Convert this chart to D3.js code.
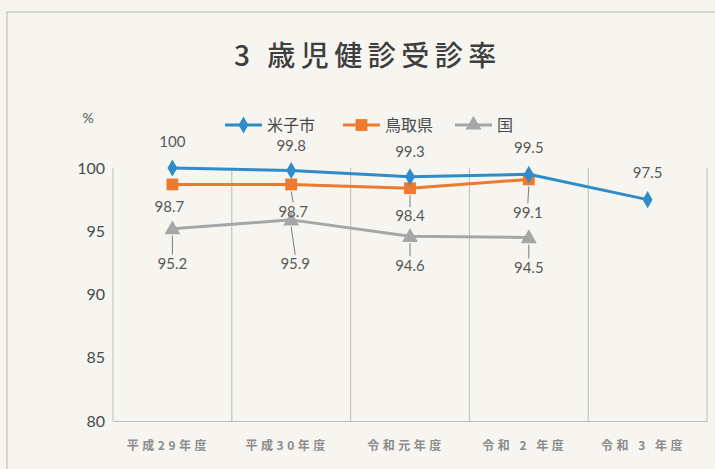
<!DOCTYPE html>
<html><head><meta charset="utf-8">
<script src="https://cdn.jsdelivr.net/npm/d3@7"></script>
<style>
html,body{margin:0;padding:0;background:#f5f4ee;}
svg{display:block;}
</style></head>
<body>
<svg id="chart" width="715" height="469"></svg>
<script>
const categories = ["平成29年度", "平成30年度", "令和元年度", "令和２年度", "令和３年度"];
const categoryLabels = ["平成29年度", "平成30年度", "令和元年度", "令和 2 年度", "令和 3 年度"];
const yonago = [100, 99.8, 99.3, 99.5, 97.5];
const tottori = [98.7, 98.7, 98.4, 99.1, null];
const kuni = [95.2, 95.9, 94.6, 94.5, null];
const yTicks = [80, 85, 90, 95, 100];
const seriesNames = ["米子市", "鳥取県", "国"];

// label layout (pixel offsets of data labels relative to their points)
const labelDy = {
  "米子市": [-26, -25, -25, -27, -27],
  "鳥取県": [22, 27, 28, 33],
  "国": [35, 44, 29, 30]
};
const labelDx = {
  "米子市": [0, 0, 0, 0, 0],
  "鳥取県": [-3, 2, 0, -1],
  "国": [0, 4, 0, 0]
};

const svg = d3.select("#chart");
const W = 715, H = 469;
const margin = {left: 113, right: 8, top: 168, bottom: 48};
const x = d3.scaleBand().domain(categories).range([margin.left, W - margin.right]);
const y = d3.scaleLinear().domain([80, 100]).range([H - margin.bottom, margin.top]);
const cx = c => x(c) + x.bandwidth() / 2;

// outer border
svg.append("rect").attr("x", 7).attr("y", 12).attr("width", W - 7 + 2).attr("height", H)
  .attr("fill", "#f6f5ef").attr("stroke", "#b8b8b4").attr("stroke-width", 1);

// title
svg.append("text").attr("x", 368).attr("y", 66).attr("text-anchor", "middle")
  .attr("font-family", "'Noto Sans CJK JP'").attr("font-size", 28).attr("font-weight", 500)
  .attr("letter-spacing", 5.5).attr("fill", "#3e3e3e").text("3 歳児健診受診率");

// unit
svg.append("text").attr("x", 88).attr("y", 123).attr("text-anchor", "middle")
  .attr("font-family", "Lato, 'Noto Sans'").attr("font-size", 14).attr("fill", "#555").text("%");

// vertical gridlines at band boundaries
const bounds = categories.map(c => x(c)).concat([x.range()[1]]);
svg.append("g").selectAll("line").data(bounds).join("line")
  .attr("x1", d => d).attr("x2", d => d)
  .attr("y1", y(100)).attr("y2", y(80))
  .attr("stroke", "#bcbcb8").attr("stroke-width", 1);

// x axis
const xAxis = d3.axisBottom(x).tickSize(0).tickFormat((d, i) => categoryLabels[i]);
const gx = svg.append("g").attr("transform", `translate(0,${y(80)})`).call(xAxis);
gx.select(".domain").attr("stroke", "#bcbcb8");
gx.selectAll("text").attr("dy", 0).attr("y", 29).attr("dx", -4)
  .attr("font-family", "'Noto Sans CJK JP'").attr("font-size", 12).attr("font-weight", 700)
  .attr("letter-spacing", 3.5).attr("fill", "#8c8c8c");

// y axis
const yAxis = d3.axisLeft(y).tickValues(yTicks).tickSize(0);
const gy = svg.append("g").attr("transform", `translate(${margin.left},0)`).call(yAxis);
gy.select(".domain").remove();
gy.selectAll("text").attr("x", -8)
  .attr("font-family", "Lato, 'Noto Sans'").attr("font-size", 16).attr("fill", "#4a4a4a");

const colors = {"米子市": "#2f8ccb", "鳥取県": "#ec7a30", "国": "#a6a6a6"};
const series = [
  {name: "米子市", values: yonago, marker: "diamond"},
  {name: "鳥取県", values: tottori, marker: "square"},
  {name: "国", values: kuni, marker: "triangle"}
];
const symType = {diamond: d3.symbolDiamond, square: d3.symbolSquare, triangle: d3.symbolTriangle};
const symSize = {diamond: 85, square: 140, triangle: 110};

const line = d3.line().defined(d => d.v != null).x(d => cx(d.c)).y(d => y(d.v));

// draw in reverse so 米子市 on top
[...series].reverse().forEach(s => {
  const pts = categories.map((c, i) => ({c, v: s.values[i], i})).filter(d => d.v != null);
  svg.append("path").datum(pts).attr("d", line).attr("fill", "none")
    .attr("stroke", colors[s.name]).attr("stroke-width", 3).attr("stroke-linejoin", "round");
  svg.append("g").selectAll("path").data(pts).join("path")
    .attr("transform", d => `translate(${cx(d.c)},${y(d.v) + (s.marker === "triangle" ? 1 : 0)})`)
    .attr("d", d3.symbol().type(symType[s.marker]).size(symSize[s.marker]))
    .attr("fill", colors[s.name]);
  // labels
  const lg = svg.append("g");
  pts.forEach(d => {
    const px = cx(d.c), py = y(d.v);
    const lx = px + labelDx[s.name][d.i], ly = py + labelDy[s.name][d.i];
    if (labelDy[s.name][d.i] > 24) {
      lg.append("line").attr("x1", lx).attr("y1", ly - 9).attr("x2", px).attr("y2", py + 7)
        .attr("stroke", "#7d7d7d").attr("stroke-width", 1);
    }
    lg.append("text").attr("x", lx).attr("y", ly).attr("dy", "0.35em").attr("text-anchor", "middle")
      .attr("font-family", "Lato, 'Noto Sans'").attr("font-size", 15).attr("fill", "#595959")
      .text(d.v);
  });
});

// legend
const legendX = [225, 343, 455];
const lgd = svg.append("g").attr("transform", "translate(0,125)");
series.forEach((s, i) => {
  const g = lgd.append("g").attr("transform", `translate(${legendX[i]},0)`);
  g.append("line").attr("x1", 0).attr("x2", 37).attr("stroke", colors[s.name]).attr("stroke-width", 3);
  g.append("path").attr("transform", "translate(18.5,0)")
    .attr("d", d3.symbol().type(symType[s.marker]).size(symSize[s.marker])).attr("fill", colors[s.name]);
  g.append("text").attr("x", 42).attr("dy", "0.35em")
    .attr("font-family", "'Noto Sans CJK JP'").attr("font-size", 16).attr("fill", "#4a4a4a").text(s.name);
});
</script>
</body></html>
